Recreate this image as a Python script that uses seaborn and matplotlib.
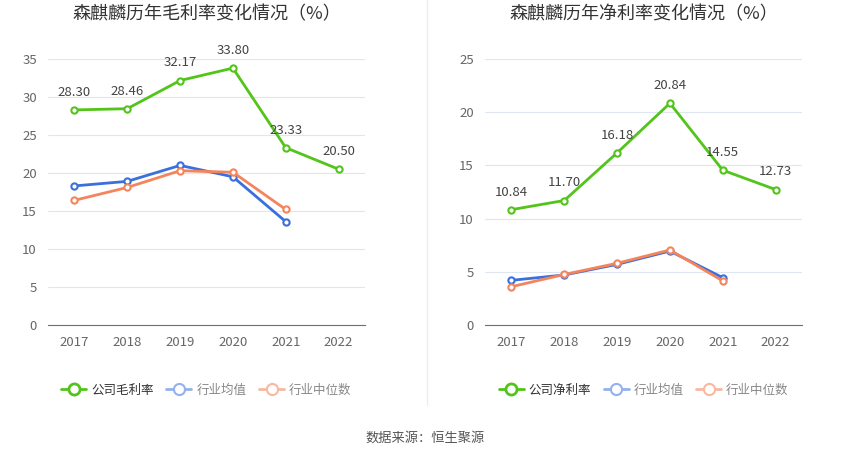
import pandas as pd
import matplotlib.pyplot as plt
import seaborn as sns
from matplotlib.lines import Line2D

# Datos
years = ["2017", "2018", "2019", "2020", "2021", "2022"]
gross_company = [28.30, 28.46, 32.17, 33.80, 23.33, 20.50]
gross_avg = [18.3, 18.9, 21.0, 19.5, 13.6]
gross_median = [16.4, 18.1, 20.3, 20.1, 15.2]
net_company = [10.84, 11.70, 16.18, 20.84, 14.55, 12.73]
net_avg = [4.2, 4.7, 5.7, 6.95, 4.45]
net_median = [3.6, 4.75, 5.8, 7.05, 4.15]

green = "#52c41a"
blue = "#3a6fdc"
orange = "#f4845c"

sns.set_style("white")
plt.rcParams["font.family"] = ["Noto Sans CJK SC", "DejaVu Sans"]

fig = plt.figure(figsize=(8.5, 4.59), dpi=100)
ax1 = fig.add_axes([48 / 850, 134 / 459, 317 / 850, 266 / 459])
ax2 = fig.add_axes([485 / 850, 134 / 459, 317 / 850, 266 / 459])


def draw(ax, company, avg, median, ymax, step, title, label):
    df = pd.DataFrame({"year": years, "v": company})
    sns.lineplot(data=df, x="year", y="v", ax=ax, color=green, linewidth=2,
                 marker="o", markersize=4.5, markerfacecolor="white",
                 markeredgecolor=green, markeredgewidth=1.5, sort=False, zorder=3)
    for vals, c in [(avg, blue), (median, orange)]:
        d = pd.DataFrame({"year": years[:len(vals)], "v": vals})
        sns.lineplot(data=d, x="year", y="v", ax=ax, color=c, linewidth=2,
                     marker="o", markersize=4.5, markerfacecolor="white",
                     markeredgecolor=c, markeredgewidth=1.5, sort=False)
    for i, v in enumerate(company):
        ax.annotate(f"{v:.2f}", (i, v), xytext=(0, 8), textcoords="offset points",
                    ha="center", va="bottom", fontsize=9.5, color="#444444")
    ax.set_xlim(-0.5, 5.5)
    ax.set_ylim(0, ymax)
    ax.set_yticks(range(0, ymax + 1, step))
    ax.grid(axis="y", color="#e0e6f1", linewidth=0.8)
    ax.set_axisbelow(True)
    for s in ["top", "right", "left"]:
        ax.spines[s].set_visible(False)
    ax.spines["bottom"].set_color("#6e7079")
    ax.tick_params(axis="y", length=0, labelsize=9.5, labelcolor="#666666", pad=8)
    ax.tick_params(axis="x", length=4, color="#6e7079", labelsize=9.5,
                   labelcolor="#666666", pad=4)
    ax.set_xlabel("")
    ax.set_ylabel("")
    pos = ax.get_position()
    cx = (pos.x0 + pos.x1) / 2
    fig.text(cx, 1 - 14 / 459, title, ha="center", va="center",
             fontsize=13, color="#333333")
    handles = [
        Line2D([], [], color=green, linewidth=2, marker="o", markersize=8,
               markerfacecolor="white", markeredgewidth=2),
        Line2D([], [], color="#93b1ee", linewidth=2, marker="o", markersize=8,
               markerfacecolor="white", markeredgewidth=1.5),
        Line2D([], [], color="#f8b9a0", linewidth=2, marker="o", markersize=8,
               markerfacecolor="white", markeredgewidth=1.5),
    ]
    leg = fig.legend(handles, [label, "行业均值", "行业中位数"], loc="center",
                     bbox_to_anchor=(cx, 69 / 459), ncol=3, frameon=False,
                     fontsize=9, handlelength=2.0, columnspacing=1.0,
                     handletextpad=0.4)
    for t, c in zip(leg.get_texts(), ["#333333", "#888888", "#888888"]):
        t.set_color(c)


draw(ax1, gross_company, gross_avg, gross_median, 35, 5,
     "森麒麟历年毛利率变化情况（%）", "公司毛利率")
draw(ax2, net_company, net_avg, net_median, 25, 5,
     "森麒麟历年净利率变化情况（%）", "公司净利率")

fig.add_artist(Line2D([427 / 850, 427 / 850], [54 / 459, 1], color="#eeeeee",
                      linewidth=1))
fig.text(0.5, 21 / 459, "数据来源：恒生聚源", ha="center", va="center",
         fontsize=9.5, color="#555555")

fig.savefig("out.png", dpi=100, facecolor="white")
